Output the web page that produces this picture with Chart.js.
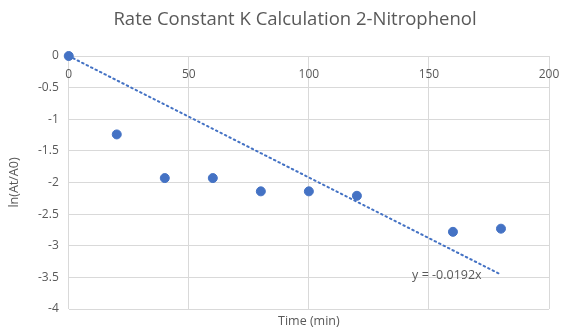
<!DOCTYPE html>
<html>
<head>
<meta charset="utf-8">
<script src="https://cdn.jsdelivr.net/npm/chart.js@4"></script>
<style>
  html, body { margin: 0; padding: 0; background: #fff; }
  #wrap { width: 562px; height: 329px; }
</style>
</head>
<body>
<div id="wrap"><canvas id="myChart" width="562" height="329"></canvas></div>
<script>
// data
let times = [0, 20, 40, 60, 80, 100, 120, 160, 180]
let lnRatio = [0, -1.24, -1.93, -1.93, -2.14, -2.14, -2.21, -2.78, -2.73]
// linear trendline through origin, y = -0.0192x
let trendX = [0, 180]
let trendY = [0, -3.456]
let trendLabel = 'y = -0.0192x'
let chartTitle = 'Rate Constant K Calculation 2-Nitrophenol'
let xTicks = [0, 50, 100, 150, 200]
let yTicks = [0, -0.5, -1, -1.5, -2, -2.5, -3, -3.5, -4]

let blue = '#4472C4'
let grey = '#595959'
let font = "'Open Sans', 'Liberation Sans', sans-serif"

let pts = times.map((t, i) => ({x: t, y: lnRatio[i]}))
let trend = trendX.map((t, i) => ({x: t, y: trendY[i]}))

// title (centred like excel, a bit right of canvas centre) + trendline equation
let textPlugin = {
  id: 'texts',
  afterDraw(chart) {
    let c = chart.ctx
    let xs = chart.scales.x, ys = chart.scales.y
    c.save()
    c.fillStyle = grey
    c.textBaseline = 'middle'
    c.font = '18.5px ' + font
    c.textAlign = 'center'
    c.fillText(chartTitle, 295, 20)
    c.font = '12.5px ' + font
    c.textAlign = 'left'
    c.fillText(trendLabel, xs.getPixelForValue(143), ys.getPixelForValue(-3.47))
    c.restore()
  }
}

// no extra room for the overhanging end labels, layout padding handles it
let noOverhang = (s) => { s.paddingLeft = 0; s.paddingRight = 0 }

let ctx = document.getElementById('myChart').getContext('2d')
let graph = new Chart(ctx, {
  type: 'scatter',
  data: {
    datasets: [{
      label: 'ln(At/A0)',
      data: pts,
      backgroundColor: blue,
      borderColor: blue,
      pointRadius: 4.5,
      pointHoverRadius: 4.5,
      showLine: false,
      clip: false,
      order: 1
    }, {
      label: 'trend',
      data: trend,
      showLine: true,
      borderColor: blue,
      borderWidth: 2,
      borderDash: [1.5, 3.5],
      borderCapStyle: 'round',
      pointRadius: 0,
      fill: false,
      order: 2
    }]
  },
  options: {
    responsive: false,
    animation: false,
    layout: { padding: { left: 7, right: 13, top: 56, bottom: 0 } },
    plugins: {
      legend: { display: false },
      tooltip: { enabled: false },
      title: { display: false }
    },
    scales: {
      x: {
        type: 'linear',
        position: { y: 0 },
        min: 0, max: 200,
        afterBuildTicks: (s) => { s.ticks = xTicks.map(v => ({value: v})) },
        afterFit: noOverhang,
        ticks: { color: grey, font: { family: font, size: 12 }, padding: 11 },
        grid: { color: '#d9d9d9', drawTicks: false },
        border: { color: '#d9d9d9' }
      },
      xt: {
        type: 'linear',
        position: 'bottom',
        min: 0, max: 200,
        afterFit: noOverhang,
        ticks: { display: false },
        grid: { display: false, drawTicks: false },
        border: { display: false },
        title: { display: true, text: 'Time (min)', color: grey, font: { family: font, size: 12.5 }, padding: { top: 5, bottom: 0 } }
      },
      y: {
        type: 'linear',
        min: -4, max: 0,
        afterBuildTicks: (s) => { s.ticks = yTicks.map(v => ({value: v})) },
        ticks: { color: grey, font: { family: font, size: 12 }, padding: 10, callback: (v) => String(v) },
        grid: { color: '#d9d9d9', drawTicks: false },
        border: { display: false },
        title: { display: true, text: 'ln(At/A0)', color: grey, font: { family: font, size: 12.5 }, padding: { top: 0, bottom: 6 } }
      }
    }
  },
  plugins: [textPlugin]
})
</script>
</body>
</html>
